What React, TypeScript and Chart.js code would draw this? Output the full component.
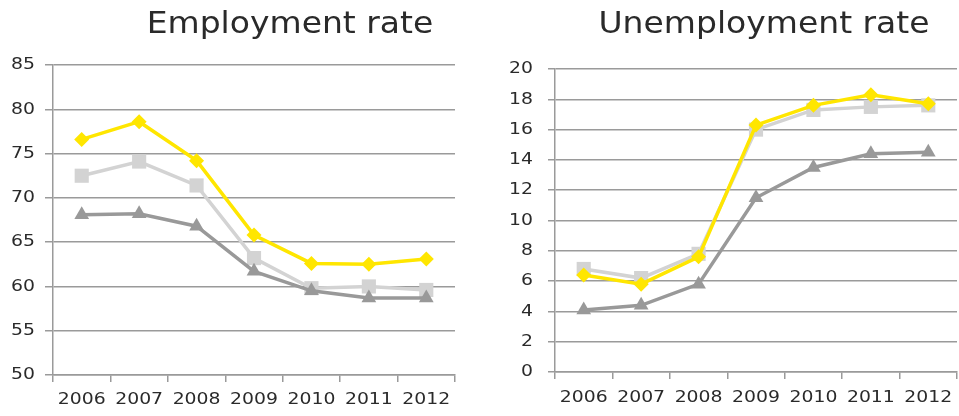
import React, { useEffect, useRef } from "react";
import { Chart, registerables } from "chart.js";

Chart.register(...registerables);

const years = ["2006", "2007", "2008", "2009", "2010", "2011", "2012"];

const empYellow = [76.6, 78.6, 74.2, 65.8, 62.6, 62.5, 63.1];
const empLight = [72.5, 74.1, 71.4, 63.2, 59.8, 60.0, 59.6];
const empDark = [68.1, 68.2, 66.8, 61.7, 59.5, 58.7, 58.7];

const unYellow = [6.4, 5.8, 7.6, 16.3, 17.6, 18.3, 17.7];
const unLight = [6.8, 6.2, 7.8, 16.0, 17.3, 17.5, 17.6];
const unDark = [4.1, 4.4, 5.8, 11.5, 13.5, 14.4, 14.5];

const YELLOW = "#ffe600";
const LIGHT = "#d3d3d3";
const DARK = "#999999";
const GRID = "#9a9a9a";
const TEXT = "#2a2a2a";

// Draws the title and the tick labels (positions from the Chart.js scales),
// with a slight horizontal stretch to match the wide lettering of the original.
const textPlugin = {
  id: "ctext",
  afterDraw(chart: any, _args: any, opts: any) {
    const ctx = chart.ctx;
    ctx.save();
    ctx.fillStyle = TEXT;

    ctx.font = opts.titleFont;
    ctx.textAlign = "center";
    ctx.textBaseline = "alphabetic";
    ctx.save();
    ctx.translate(opts.titleX, opts.titleY);
    ctx.scale(opts.titleStretch, 1);
    ctx.fillText(opts.title, 0, 0);
    ctx.restore();

    ctx.font = opts.tickFont;
    ctx.textBaseline = "middle";
    const xs = chart.scales.x;
    ctx.textAlign = "center";
    xs.ticks.forEach((t: any, i: number) => {
      const px = xs.getPixelForTick(i);
      ctx.save();
      ctx.translate(px, opts.xLabelY);
      ctx.scale(opts.tickStretch, 1);
      ctx.fillText(String(xs.getLabelForValue(t.value)), 0, 0);
      ctx.restore();
    });
    const ys = chart.scales.y;
    ctx.textAlign = "right";
    ys.ticks.forEach((t: any, i: number) => {
      const py = ys.getPixelForTick(i);
      ctx.save();
      ctx.translate(opts.yLabelRight, py);
      ctx.scale(opts.tickStretch, 1);
      ctx.fillText(String(t.label), 0, 0);
      ctx.restore();
    });
    ctx.restore();
  },
};

type Cfg = {
  title: string;
  titleX: number;
  yellow: number[];
  light: number[];
  dark: number[];
  min: number;
  max: number;
  step: number;
  yWidth: number;
  xHeight: number;
  padTop: number;
  padRight: number;
  yTickLen: number;
  xLabelY: number;
  yLabelRight: number;
};

function LineChart({ cfg }: { cfg: Cfg }) {
  const ref = useRef<HTMLCanvasElement | null>(null);
  useEffect(() => {
    if (!ref.current) return;
    const ds = (label: string, data: number[], color: string, style: string, r: number) => ({
      label,
      data,
      borderColor: color,
      backgroundColor: color,
      borderWidth: 3.5,
      pointStyle: style,
      pointRadius: r,
      pointBorderWidth: 0,
      pointBackgroundColor: color,
      tension: 0,
    });
    const chart = new Chart(ref.current, {
      type: "line",
      data: {
        labels: years,
        datasets: [
          ds("a", cfg.yellow, YELLOW, "rectRot", 7.5),
          ds("c", cfg.dark, DARK, "triangle", 8.5),
          ds("b", cfg.light, LIGHT, "rect", 10),
        ],
      },
      options: {
        animation: false,
        responsive: false,
        layout: {
          autoPadding: false,
          padding: { top: cfg.padTop, right: cfg.padRight, left: 0, bottom: 0 },
        },
        plugins: {
          legend: { display: false },
          tooltip: { enabled: false },
          ctext: {
            title: cfg.title,
            titleX: cfg.titleX,
            titleY: 33,
            titleFont: "30px 'DejaVu Sans'",
            titleStretch: 1.1,
            tickFont: "16.5px 'DejaVu Sans'",
            tickStretch: 1.14,
            xLabelY: cfg.xLabelY,
            yLabelRight: cfg.yLabelRight,
          },
        } as any,
        scales: {
          x: {
            offset: true,
            afterFit: (s: any) => {
              s.height = cfg.xHeight;
              s.paddingLeft = 0;
              s.paddingRight = 0;
            },
            grid: {
              display: true,
              drawOnChartArea: false,
              offset: true,
              color: GRID,
              lineWidth: 1.5,
              tickLength: 7,
            },
            border: { display: true, color: GRID, width: 1.5 },
            ticks: {
              color: "rgba(0,0,0,0)",
              maxRotation: 0,
              autoSkip: false,
              font: { family: "'DejaVu Sans'", size: 16 },
            },
          },
          y: {
            min: cfg.min,
            max: cfg.max,
            afterFit: (s: any) => {
              s.width = cfg.yWidth;
              s.paddingTop = 0;
              s.paddingBottom = 0;
            },
            grid: {
              color: GRID,
              lineWidth: 1.5,
              tickLength: cfg.yTickLen,
            },
            border: { display: true, color: GRID, width: 1.5 },
            ticks: {
              stepSize: cfg.step,
              color: "rgba(0,0,0,0)",
              font: { family: "'DejaVu Sans'", size: 16 },
            },
          },
        },
      },
      plugins: [textPlugin],
    });
    return () => chart.destroy();
  }, [cfg]);
  return <canvas ref={ref} width={480} height={416} style={{ display: "block" }} />;
}

const leftCfg: Cfg = {
  title: "Employment rate",
  titleX: 290,
  yellow: empYellow,
  light: empLight,
  dark: empDark,
  min: 50,
  max: 85,
  step: 5,
  yWidth: 53,
  xHeight: 41,
  padTop: 65,
  padRight: 25,
  yTickLen: 8,
  xLabelY: 400,
  yLabelRight: 35,
};

const rightCfg: Cfg = {
  title: "Unemployment rate",
  titleX: 284,
  yellow: unYellow,
  light: unLight,
  dark: unDark,
  min: 0,
  max: 20,
  step: 2,
  yWidth: 75,
  xHeight: 44,
  padTop: 69,
  padRight: 3,
  yTickLen: 7,
  xLabelY: 398,
  yLabelRight: 53,
};

export default function App() {
  return (
    <div
      style={{
        position: "fixed",
        left: 0,
        top: 0,
        width: 959,
        height: 416,
        background: "#ffffff",
        overflow: "hidden",
      }}
    >
      <div style={{ position: "absolute", left: 0, top: 0 }}>
        <LineChart cfg={leftCfg} />
      </div>
      <div style={{ position: "absolute", left: 480, top: 0 }}>
        <LineChart cfg={rightCfg} />
      </div>
    </div>
  );
}
